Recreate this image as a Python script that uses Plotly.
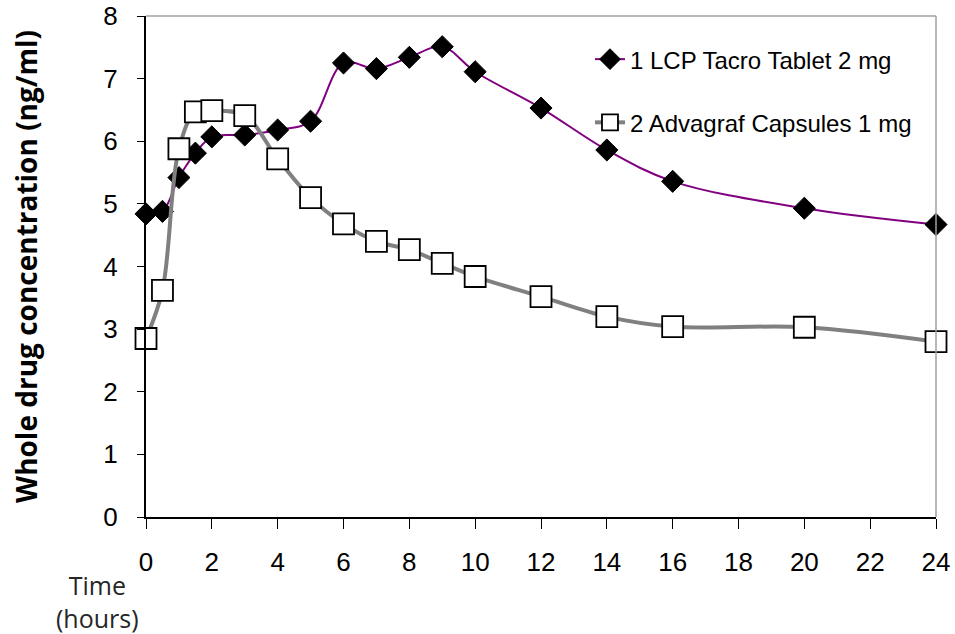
import plotly.graph_objects as go

# Data
time_h = [0, 0.5, 1, 1.5, 2, 3, 4, 5, 6, 7, 8, 9, 10, 12, 14, 16, 20, 24]
lcp_tacro = [4.84, 4.88, 5.42, 5.81, 6.07, 6.10, 6.18, 6.32, 7.25, 7.16, 7.34, 7.51,
             7.11, 6.53, 5.86, 5.36, 4.93, 4.67]
advagraf = [2.85, 3.62, 5.88, 6.47, 6.49, 6.41, 5.72, 5.10, 4.68, 4.40, 4.27, 4.05,
            3.84, 3.52, 3.20, 3.04, 3.03, 2.80]
series_names = ["1 LCP Tacro Tablet 2 mg", "2 Advagraf Capsules 1 mg"]
x_ticks = list(range(0, 25, 2))
y_ticks = list(range(0, 9))

NARROW = "Liberation Sans Narrow, Arial Narrow, Liberation Sans, Arial, sans-serif"

fig = go.Figure()
fig.add_trace(go.Scatter(
    x=time_h, y=lcp_tacro, name=series_names[0], mode="lines+markers",
    line=dict(color="#800080", width=2, shape="spline", smoothing=1),
    marker=dict(symbol="diamond", size=17, color="black",
                line=dict(color="black", width=1)),
    cliponaxis=False, legendgroup="a",
))
fig.add_trace(go.Scatter(
    x=time_h, y=advagraf, name=series_names[1], mode="lines+markers",
    line=dict(color="#808080", width=4, shape="spline", smoothing=1),
    marker=dict(symbol="square", size=21, color="white",
                line=dict(color="black", width=1.8)),
    cliponaxis=False, legendgroup="b",
))

fig.update_layout(
    width=955, height=634,
    margin=dict(l=146, r=19, t=16, b=117, autoexpand=False),
    paper_bgcolor="white", plot_bgcolor="white",
    showlegend=True,
    legend=dict(
        x=0.562, y=0.958, xanchor="left", yanchor="top",
        font=dict(family=NARROW, size=24, color="black"),
        bgcolor="rgba(0,0,0,0)", tracegroupgap=29,
        itemwidth=30,
    ),
    xaxis=dict(
        range=[0, 24], tickvals=x_ticks, ticktext=[str(v) for v in x_ticks],
        showgrid=False, zeroline=False, automargin=False,
        showline=True, linecolor="black", linewidth=2,
        ticks="outside", ticklen=10, tickwidth=1, tickcolor="black",
        tickfont=dict(family=NARROW, size=26, color="black"),
        ticklabelstandoff=11, ticklabeloverflow="allow",
    ),
    yaxis=dict(
        range=[0, 8], tickvals=y_ticks, ticktext=[str(v) for v in y_ticks],
        showgrid=False, zeroline=False, automargin=False,
        showline=True, linecolor="black", linewidth=2,
        ticks="outside", ticklen=7, tickwidth=1, tickcolor="black",
        tickfont=dict(family=NARROW, size=26, color="black"),
        ticklabelstandoff=14, ticklabeloverflow="allow",
        title=dict(text="<b>Whole drug concentration (ng/ml)</b>",
                   font=dict(family="Open Sans, sans-serif", size=28, color="black"),
                   standoff=58),
    ),
    shapes=[
        dict(type="line", xref="paper", yref="paper", x0=0, x1=1, y0=1, y1=1,
             line=dict(color="#a0a0a0", width=1.5)),
        dict(type="line", xref="paper", yref="paper", x0=1, x1=1, y0=0, y1=1,
             line=dict(color="#a0a0a0", width=1.5)),
    ],
    annotations=[
        dict(text="Time<br>(hours)", xref="paper", yref="paper",
             x=-0.062, y=-0.168, xanchor="center", yanchor="middle",
             showarrow=False, align="center",
             font=dict(family="Open Sans, sans-serif", size=25, color="#262626")),
    ],
)

fig.write_html("out.html")
